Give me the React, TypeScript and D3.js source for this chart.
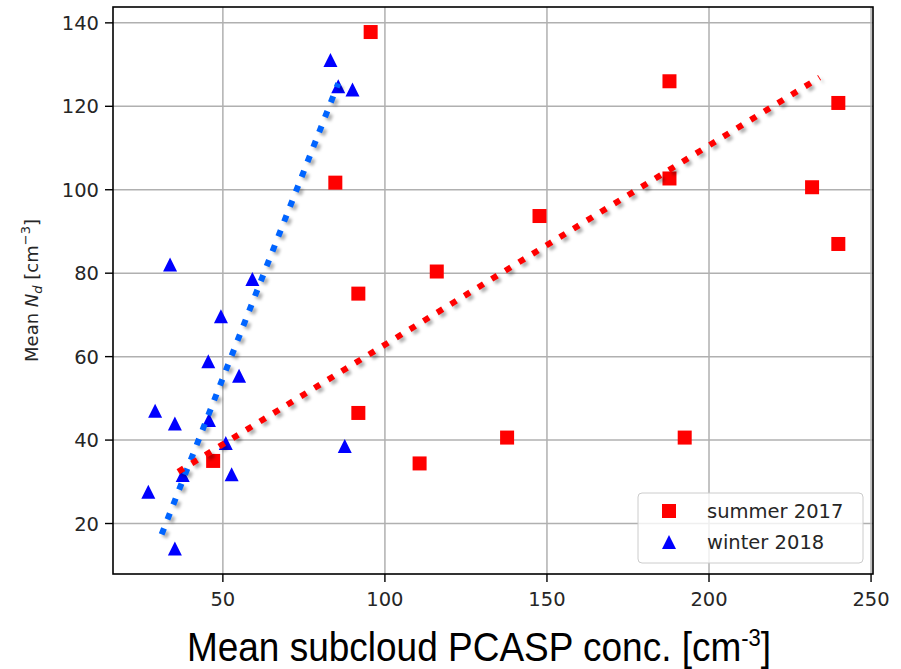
import React from 'react';
import * as d3 from 'd3';

const summerX = [95.6, 84.7, 91.8, 91.8, 47.0, 187.8, 239.9, 187.8, 231.8, 147.7, 239.9, 116.0, 137.7, 192.5, 110.7];
const summerY = [137.8, 101.7, 75.1, 46.5, 35.0, 126.0, 120.8, 102.7, 100.6, 93.7, 87.0, 80.4, 40.6, 40.6, 34.4];
const winterX = [83.2, 85.6, 90.0, 33.7, 59.1, 49.4, 45.5, 55.0, 29.1, 35.2, 45.7, 50.9, 87.6, 37.6, 52.7, 27.0, 35.2];
const winterY = [131.1, 124.8, 124.0, 82.1, 78.6, 69.7, 58.9, 55.4, 47.0, 44.0, 44.8, 39.3, 38.6, 31.6, 31.8, 27.6, 14.0];
const summerFitX = [36.2, 234.1];
const summerFitY = [32.4, 126.9];
const winterFitX = [31.1, 85.6];
const winterFitY = [17.4, 125.5];
const xTicks = [50, 100, 150, 200, 250];
const yTicks = [20, 40, 60, 80, 100, 120, 140];
const legendLabels = ['summer 2017', 'winter 2018'];

const W = 901, H = 669;
const L = 113, R = 873, T = 7, B = 574;

export default function App() {
  const x = d3.scaleLinear().domain([16.1, 250.6]).range([L, R]);
  const y = d3.scaleLinear().domain([7.9, 143.8]).range([B, T]);
  const line = d3.line<[number, number]>().x(d => x(d[0])).y(d => y(d[1]));
  const sumFit = line(summerFitX.map((v, i) => [v, summerFitY[i]] as [number, number])) || '';
  const winFit = line(winterFitX.map((v, i) => [v, winterFitY[i]] as [number, number])) || '';
  const sq = 14;
  const tri = (cx: number, cy: number, s: number) =>
    `M${cx},${cy - s / 2}L${cx + s / 2},${cy + s / 2}L${cx - s / 2},${cy + s / 2}Z`;
  const tickFont = { fontFamily: 'DejaVu Sans', fontSize: 19.5, fill: '#262626' } as const;

  return (
    <svg width={W} height={H} style={{ position: 'absolute', left: 0, top: 0, background: '#fff' }}>
      <defs>
        <filter id="blur" x="-20%" y="-20%" width="140%" height="140%">
          <feGaussianBlur stdDeviation="1.6" />
        </filter>
        <clipPath id="clip"><rect x={L} y={T} width={R - L} height={B - T} /></clipPath>
      </defs>
      <rect x={0} y={0} width={W} height={H} fill="#fff" />
      {xTicks.map(t => (
        <line key={'gx' + t} x1={x(t)} x2={x(t)} y1={T} y2={B} stroke="#b0b0b0" strokeWidth={1.5} />
      ))}
      {yTicks.map(t => (
        <line key={'gy' + t} x1={L} x2={R} y1={y(t)} y2={y(t)} stroke="#b0b0b0" strokeWidth={1.5} />
      ))}
      <g clipPath="url(#clip)">
        {summerX.map((v, i) => (
          <rect key={'s' + i} x={x(v) - sq / 2} y={y(summerY[i]) - sq / 2} width={sq} height={sq} fill="#ff0000" />
        ))}
        {winterX.map((v, i) => (
          <path key={'w' + i} d={tri(x(v), y(winterY[i]), 14)} fill="#0000ff" />
        ))}
        <path d={winFit} transform="translate(3,3)" stroke="#000" strokeOpacity={0.3} strokeWidth={6} strokeDasharray="6.5 9.5" fill="none" filter="url(#blur)" />
        <path d={sumFit} transform="translate(3,3)" stroke="#000" strokeOpacity={0.3} strokeWidth={6} strokeDasharray="6.5 9.5" fill="none" filter="url(#blur)" />
        <path d={winFit} stroke="#0064ff" strokeWidth={6} strokeDasharray="6.5 9.5" fill="none" />
        <path d={sumFit} stroke="#ff0000" strokeWidth={6} strokeDasharray="6.5 9.5" fill="none" />
      </g>
      <rect x={L} y={T} width={R - L} height={B - T} fill="none" stroke="#000" strokeWidth={1.6} />
      {xTicks.map(t => (
        <g key={'tx' + t}>
          <line x1={x(t)} x2={x(t)} y1={B} y2={B + 8} stroke="#000" strokeWidth={1.4} />
          <text x={x(t)} y={606} textAnchor="middle" {...tickFont}>{t}</text>
        </g>
      ))}
      {yTicks.map(t => (
        <g key={'ty' + t}>
          <line x1={L - 8} x2={L} y1={y(t)} y2={y(t)} stroke="#000" strokeWidth={1.4} />
          <text x={L - 14} y={y(t)} dy="0.36em" textAnchor="end" {...tickFont}>{t}</text>
        </g>
      ))}
      <text transform={`translate(38,${(T + B) / 2}) rotate(-90)`} textAnchor="middle" fontFamily="DejaVu Sans" fontSize={18} fill="#262626">
        Mean <tspan fontStyle="italic">N</tspan><tspan fontStyle="italic" fontSize={13} dy={4}>d</tspan><tspan dy={-4}> [cm</tspan><tspan fontSize={13} dy={-8}>−3</tspan><tspan dy={8}>]</tspan>
      </text>
      <rect x={638} y={493} width={225} height={70} rx={4} fill="#fff" fillOpacity={0.8} stroke="#cccccc" strokeWidth={1} />
      <rect x={669 - 7} y={511 - 7} width={14} height={14} fill="#ff0000" />
      <path d={tri(669, 542, 14)} fill="#0000ff" />
      <text x={707} y={518} {...tickFont}>{legendLabels[0]}</text>
      <text x={707} y={549} {...tickFont}>{legendLabels[1]}</text>
      <text transform="translate(479,661) scale(1,1.12)" textAnchor="middle" fontFamily="Liberation Sans" fontSize={37} fill="#000">
        Mean subcloud PCASP conc. [cm<tspan fontSize={22} dy={-13}>-3</tspan><tspan dy={13}>]</tspan>
      </text>
    </svg>
  );
}
